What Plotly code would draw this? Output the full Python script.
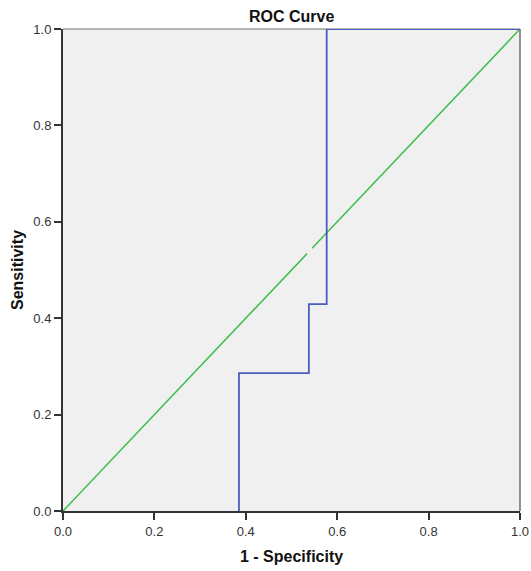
import plotly.graph_objects as go

# ROC step curve (the segment along the x axis is hidden under the axis in the original)
roc_fpr = [0.385, 0.385, 0.538, 0.538, 0.577, 0.577, 1.0]
roc_tpr = [0.0, 0.286, 0.286, 0.429, 0.429, 1.0, 1.0]

# reference diagonal (drawn in two pieces, small gap as in original)
diag_a = [0.0, 0.534]
diag_b = [0.545, 1.0]

tick_vals = [0.0, 0.2, 0.4, 0.6, 0.8, 1.0]
tick_text = ["0.0", "0.2", "0.4", "0.6", "0.8", "1.0"]

FONT = "Liberation Sans, Arial, sans-serif"
W, H = 531, 571
L, R, T, B = 63, 11, 29, 60

fig = go.Figure()
fig.add_trace(go.Scatter(x=diag_a, y=diag_a, mode="lines",
                         line=dict(color="#3CBF4A", width=1.5), showlegend=False, hoverinfo="skip"))
fig.add_trace(go.Scatter(x=diag_b, y=diag_b, mode="lines",
                         line=dict(color="#3CBF4A", width=1.5), showlegend=False, hoverinfo="skip"))
fig.add_trace(go.Scatter(x=roc_fpr, y=roc_tpr, mode="lines",
                         line=dict(color="#4A5EC0", width=1.8), showlegend=False))

fig.add_shape(type="line", xref="paper", yref="paper", x0=0, y0=1, x1=1, y1=1,
              line=dict(color="#707070", width=1.2), layer="below")
fig.add_shape(type="line", xref="paper", yref="paper", x0=1, y0=0, x1=1, y1=1,
              line=dict(color="#707070", width=1.5), layer="above")

axis_common = dict(
    range=[0, 1], tickvals=tick_vals, ticktext=tick_text,
    showgrid=False, zeroline=False, automargin=False,
    showline=True, linecolor="#333333", linewidth=2,
    ticks="outside", ticklen=7, tickwidth=1.6, tickcolor="#333333",
    tickfont=dict(family=FONT, size=13, color="#333333"),
    fixedrange=True, layer="above traces",
)

plot_w = W - L - R
plot_h = H - T - B

fig.update_layout(
    width=W, height=H,
    margin=dict(l=L, r=R, t=T, b=B),
    paper_bgcolor="white", plot_bgcolor="#F0F0F0",
    xaxis=dict(axis_common),
    yaxis=dict(axis_common),
    annotations=[
        dict(text="<b>ROC Curve</b>", xref="paper", yref="paper",
             x=0.5, y=1 + (T - 16) / plot_h, xanchor="center", yanchor="middle",
             showarrow=False, font=dict(family=FONT, size=16, color="#111111")),
        dict(text="<b>1 - Specificity</b>", xref="paper", yref="paper",
             x=0.5, y=-(556 - (H - B)) / plot_h, xanchor="center", yanchor="middle",
             showarrow=False, font=dict(family=FONT, size=16, color="#111111")),
        dict(text="<b>Sensitivity</b>", xref="paper", yref="paper",
             x=-(L - 17) / plot_w, y=1 - (270 - T) / plot_h, xanchor="center", yanchor="middle",
             textangle=-90, showarrow=False, font=dict(family=FONT, size=16, color="#111111")),
    ],
)

fig.write_html("out.html", config={"displayModeBar": False},
               post_script="document.body.style.margin='0';document.body.style.overflow='hidden';")
